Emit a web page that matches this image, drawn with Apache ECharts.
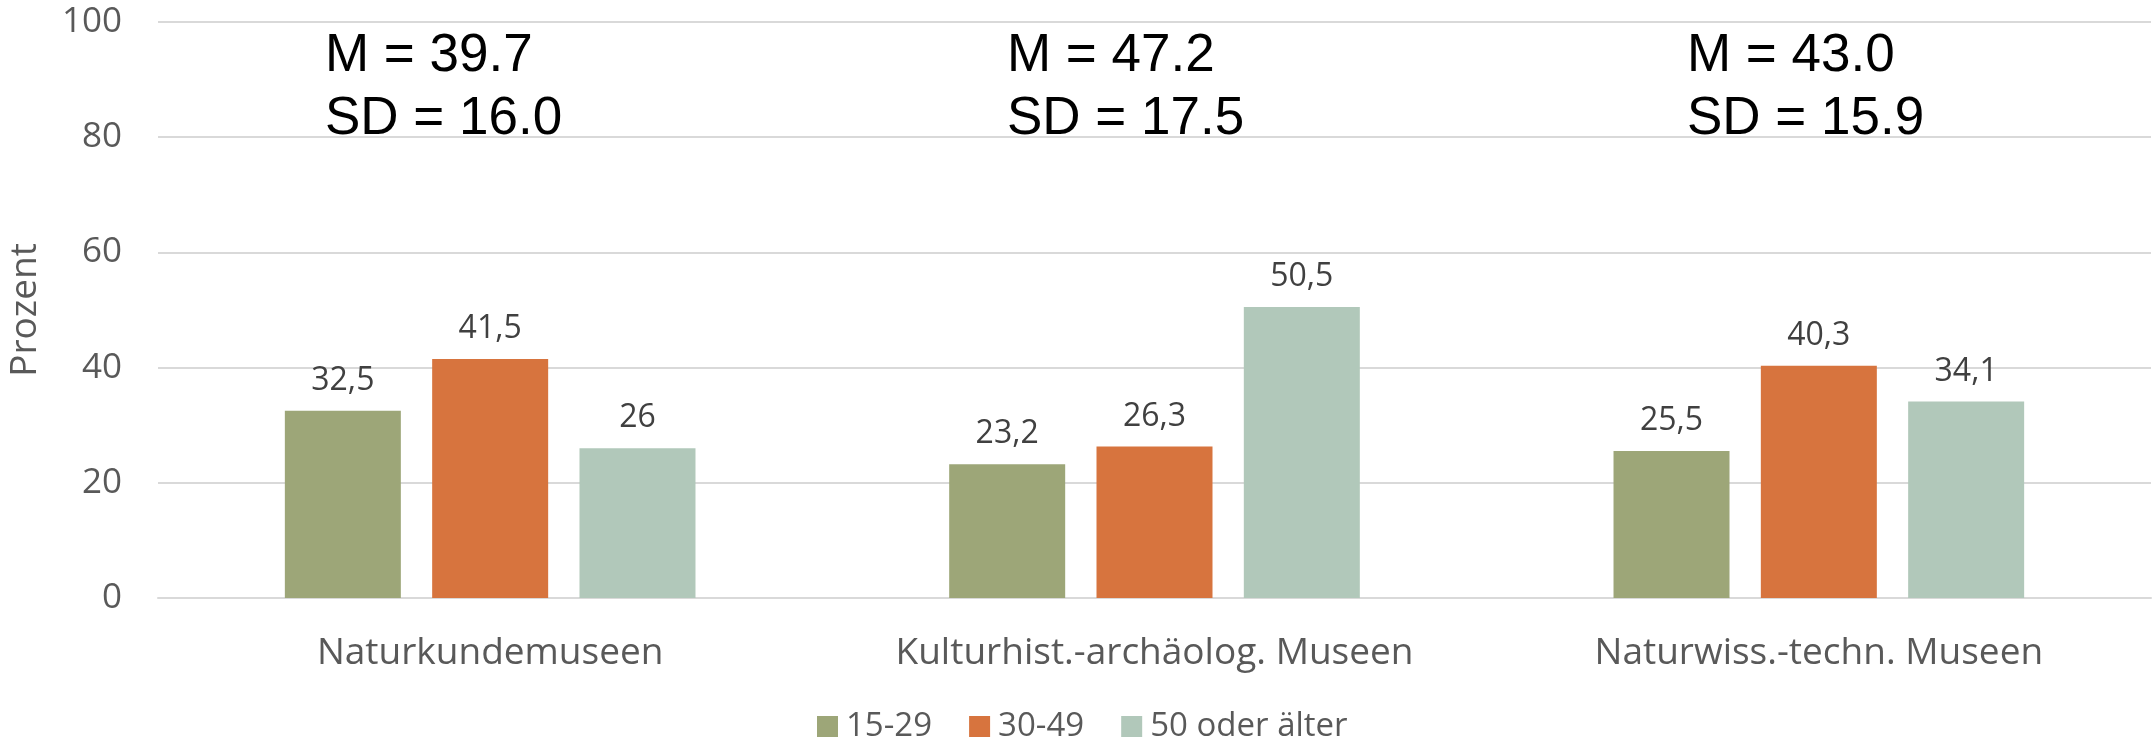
<!DOCTYPE html>
<html>
<head>
<meta charset="utf-8">
<title>Museen nach Altersgruppen</title>
<script src="https://cdn.jsdelivr.net/npm/echarts@6/dist/echarts.min.js"></script>
<style>
    html, body { margin: 0; padding: 0; background: #fff; }
    #chart { width: 2153px; height: 741px; }
</style>
</head>
<body>
<div id="chart"></div>
<script>
// Kategorien und Werte (Prozent)
const categories = ['Naturkundemuseen', 'Kulturhist.-archäolog. Museen', 'Naturwiss.-techn. Museen'];
const groups = ['15-29', '30-49', '50 oder älter'];
const age15to29 = [32.5, 23.2, 25.5];
const age30to49 = [41.5, 26.3, 40.3];
const age50plus = [26, 50.5, 34.1];
const means = [39.7, 47.2, 43.0];
const sds = [16.0, 17.5, 15.9];
const yTicks = [0, 20, 40, 60, 80, 100];

const colors = ['#9da678', '#d7743e', '#b1c8ba'];
const annotationX = [325, 1007, 1687];

const chart = echarts.init(document.getElementById('chart'));

const labelStyle = {
    show: true,
    position: 'top',
    distance: 14,
    color: '#404040',
    fontFamily: 'Open Sans',
    fontSize: 32,
    formatter: p => String(p.value).replace('.', ',')
};

// M / SD Beschriftungen über den Gruppen
const annotations = [];
means.forEach((m, i) => {
    annotations.push({
        type: 'text',
        x: annotationX[i],
        y: 56,
        style: {
            text: 'M = ' + m.toFixed(1),
            font: '53px "Liberation Sans", Arial, sans-serif',
            fill: '#000',
            verticalAlign: 'middle'
        }
    });
    annotations.push({
        type: 'text',
        x: annotationX[i],
        y: 119,
        style: {
            text: 'SD = ' + sds[i].toFixed(1),
            font: '53px "Liberation Sans", Arial, sans-serif',
            fill: '#000',
            verticalAlign: 'middle'
        }
    });
});

const option = {
    animation: false,
    color: colors,
    grid: {
        left: 158,
        right: 2,
        top: 22,
        bottom: 143,
        containLabel: false,
        outerBoundsMode: 'none'
    },
    legend: {
        data: groups,
        left: 812,
        top: 705,
        itemWidth: 21,
        itemHeight: 21,
        itemGap: 37,
        icon: 'rect',
        textStyle: {
            color: '#595959',
            fontFamily: 'Open Sans',
            fontSize: 33,
            padding: [0, 0, 0, 3]
        }
    },
    xAxis: {
        type: 'category',
        data: categories,
        axisLine: { show: true, lineStyle: { color: '#d9d9d9', width: 2 } },
        axisTick: { show: false },
        axisLabel: {
            interval: 0,
            hideOverlap: false,
            color: '#595959',
            fontFamily: 'Open Sans',
            fontSize: 37,
            margin: 37
        }
    },
    yAxis: {
        type: 'value',
        min: yTicks[0],
        max: yTicks[yTicks.length - 1],
        interval: 20,
        name: 'Prozent',
        nameLocation: 'middle',
        nameGap: 114,
        nameTextStyle: {
            color: '#595959',
            fontFamily: 'Open Sans',
            fontSize: 37
        },
        axisLine: { show: false },
        axisTick: { show: false },
        splitLine: { lineStyle: { color: '#d9d9d9', width: 2 } },
        axisLabel: {
            color: '#595959',
            fontFamily: 'Open Sans',
            fontSize: 35,
            margin: 36
        }
    },
    series: [
        { name: groups[0], type: 'bar', data: age15to29, barWidth: 116, barGap: '27%', label: labelStyle },
        { name: groups[1], type: 'bar', data: age30to49, barWidth: 116, barGap: '27%', label: labelStyle },
        { name: groups[2], type: 'bar', data: age50plus, barWidth: 116, barGap: '27%', label: labelStyle }
    ],
    graphic: annotations
};

chart.setOption(option);
window.addEventListener('resize', () => chart.resize());
</script>
</body>
</html>
